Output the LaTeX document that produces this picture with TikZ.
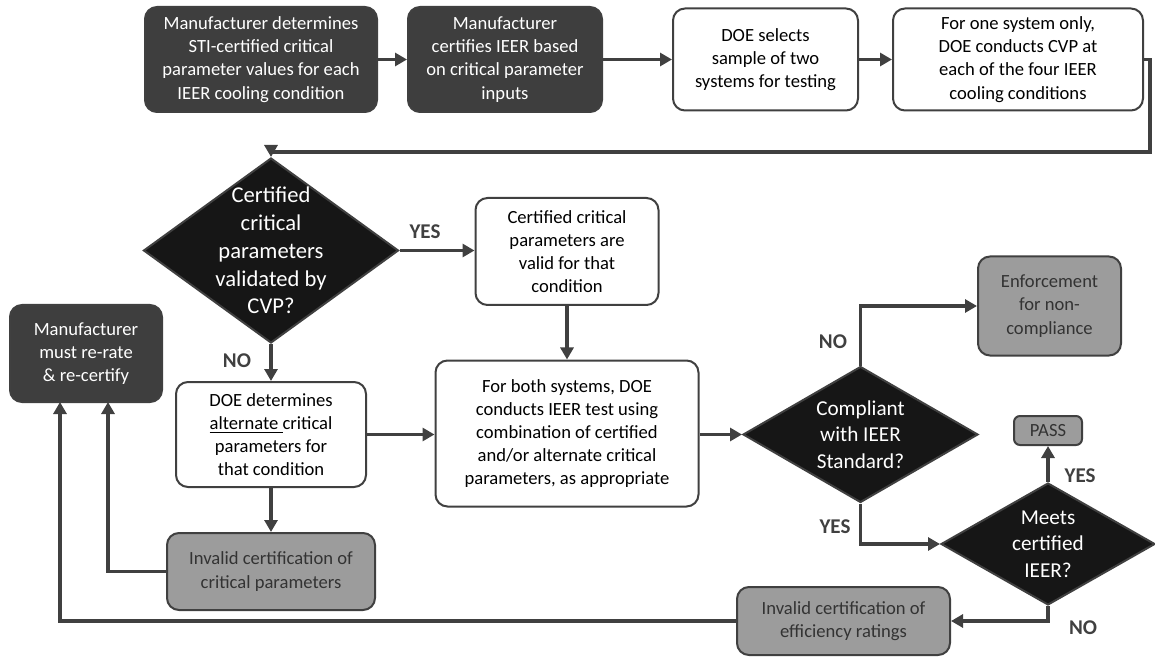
\documentclass[tikz,border=0pt]{standalone}
\usepackage{fontspec}
\setmainfont{Carlito}
\usetikzlibrary{shapes.geometric,arrows.meta}
\definecolor{edgegray}{HTML}{404040}
\definecolor{darkfill}{HTML}{3E3E3E}
\definecolor{diamondfill}{HTML}{161616}
\definecolor{greyfill}{HTML}{9C9C9C}
\definecolor{greytext}{HTML}{333333}

\begin{document}
\begin{tikzpicture}[x=0.5pt,y=-0.5pt,
    box/.style={rounded corners=6pt,draw=edgegray,line width=1pt,align=center,inner sep=0pt,font=\fontsize{9.3}{11.6}\selectfont},
    darkbox/.style={box,fill=darkfill,text=white},
    whitebox/.style={box,fill=white,text=black},
    greybox/.style={box,fill=greyfill,text=greytext},
    decision/.style={diamond,draw=edgegray,line width=1pt,fill=diamondfill,inner sep=0pt},
    decision text/.style={align=center,text=white,inner sep=0pt,font=\fontsize{10.6}{13.3}\selectfont},
    answer/.style={font=\fontsize{10.5}{12}\selectfont\bfseries,text=edgegray},
    flow/.style={draw=edgegray,line width=1.7pt,-{Triangle[length=6pt,width=6.5pt]}}]
\useasboundingbox (0,0) rectangle (1155,662);

\node [darkbox,minimum width=116pt,minimum height=52.5pt] (mfr-sti) at (261,59.5)
    {Manufacturer determines\\STI-certified critical\\parameter values for each\\IEER cooling condition};
\node [darkbox,minimum width=97pt,minimum height=52.5pt] (mfr-cert) at (505,59.5)
    {Manufacturer\\certifies IEER based\\on critical parameter\\inputs};
\node [whitebox,minimum width=92.5pt,minimum height=51pt] (doe-sample) at (765.5,59.5)
    {DOE selects\\sample of two\\systems for testing};
\node [whitebox,minimum width=125pt,minimum height=51pt] (doe-cvp) at (1018,59.5)
    {For one system only,\\DOE conducts CVP at\\each of the four IEER\\cooling conditions};
\coordinate (turn) at (1150,152);

\node [decision,minimum width=127.5pt,minimum height=92.5pt] (cvp-check) at (271,250.5) {};
\node [decision text,font=\fontsize{11.3}{13.9}\selectfont] (cvp-check-text) at (cvp-check)
    {Certified\\critical\\parameters\\validated by\\CVP?};
\node [whitebox,minimum width=91.5pt,minimum height=53.5pt] (valid) at (567,251.5)
    {Certified critical\\parameters are\\valid for that\\condition};
\node [whitebox,minimum width=95pt,minimum height=52.5pt] (alternate) at (271,434.5)
    {DOE determines\\\underline{alternate }critical\\parameters for\\that condition};
\node [whitebox,minimum width=131.5pt,minimum height=73pt] (ieer-test) at (567,433.5)
    {For both systems, DOE\\conducts IEER test using\\combination of certified\\and/or alternate critical\\parameters, as appropriate};

\node [decision,minimum width=117.5pt,minimum height=68pt] (compliant) at (860.5,434.5) {};
\node [decision text] (compliant-text) at (compliant) {Compliant\\with IEER\\Standard?};
\node [greybox,minimum width=71.5pt,minimum height=49.5pt] (enforce) at (1049.5,306)
    {Enforcement\\for non-\\compliance};
\node [decision,minimum width=107pt,minimum height=61pt] (meets) at (1048,544) {};
\node [decision text] (meets-text) at (meets) {Meets\\certified\\IEER?};
\node [greybox,rounded corners=3pt,minimum width=34pt,minimum height=14.5pt] (pass) at (1048,430.5) {PASS};

\node [greybox,minimum width=104pt,minimum height=38.5pt] (bad-crit) at (271,571.5)
    {Invalid certification of\\critical parameters};
\node [greybox,minimum width=106.5pt,minimum height=34pt] (bad-eff) at (843.5,621)
    {Invalid certification of\\efficiency ratings};
\node [darkbox,minimum width=76pt,minimum height=48.5pt] (rerate) at (86,353.5)
    {Manufacturer\\must re-rate\\\& re-certify};
\coordinate (rerate-in1) at (60,402);
\coordinate (rerate-in2) at (108,402);

\draw [flow] (mfr-sti) -- (mfr-cert);
\draw [flow] (mfr-cert) -- (doe-sample);
\draw [flow] (doe-sample) -- (doe-cvp);
\draw [flow] (doe-cvp.east) -| (turn) -| (cvp-check.north);
\draw [flow] (cvp-check.east) -- (cvp-check.east -| valid.west);
\draw [flow] (cvp-check) -- (alternate);
\draw [flow] (valid) -- (ieer-test);
\draw [flow] (alternate.east) -- (alternate.east -| ieer-test.west);
\draw [flow] (ieer-test.east |- compliant.west) -- (compliant.west);
\draw [flow] (compliant.north) |- (enforce.west);
\draw [flow] (compliant.south) |- (meets.west);
\draw [flow] (meets) -- (pass);
\draw [flow] (meets.south) |- (bad-eff.east);
\draw [flow] (alternate) -- (bad-crit);
\draw [flow] (bad-crit.west) -| (rerate-in2);
\draw [flow] (bad-eff.west) -| (rerate-in1);

\node [answer] (yes-valid) at (425,232) {YES};
\node [answer] (no-alternate) at (237,361) {NO};
\node [answer] (no-compliant) at (833,342) {NO};
\node [answer] (yes-compliant) at (835,527) {YES};
\node [answer] (yes-meets) at (1080,476) {YES};
\node [answer] (no-meets) at (1083,628) {NO};
\end{tikzpicture}
\end{document}
